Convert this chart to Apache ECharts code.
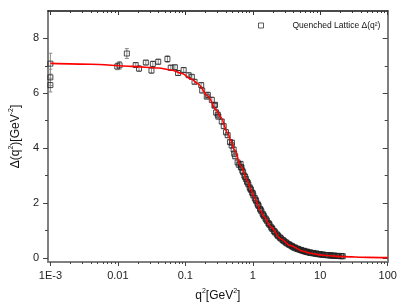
<!DOCTYPE html>
<html>
<head>
<meta charset="utf-8">
<script src="https://cdn.jsdelivr.net/npm/echarts@6/dist/echarts.min.js"></script>
<style>html,body{margin:0;padding:0;background:#fff}#c{width:407px;height:307px}</style>
</head>
<body>
<div id="c"></div>
<script>
// Lattice data: q^2 [GeV^2], Delta(q^2) [GeV^-2], error
const latQ2 = [0.001, 0.001, 0.001, 0.0098, 0.0106, 0.0136, 0.0184, 0.0206, 0.026, 0.0315, 0.033, 0.0397, 0.0543, 0.0608, 0.07, 0.078, 0.0945, 0.112, 0.125, 0.137, 0.172, 0.178, 0.208, 0.216, 0.247, 0.27, 0.276, 0.286, 0.303, 0.309, 0.347, 0.371, 0.401, 0.425, 0.459, 0.486, 0.491, 0.52, 0.531, 0.549, 0.596, 0.62, 0.667,
  0.68, 0.72, 0.75, 0.79, 0.82, 0.86, 0.9, 0.94, 0.98, 1.02, 1.07, 1.12, 1.17, 1.22, 1.28, 1.34, 1.4, 1.47, 1.54, 1.62, 1.7, 1.78, 1.87, 1.96, 2.06, 2.16, 2.27, 2.38, 2.5, 2.63, 2.76, 2.9, 3.05, 3.2, 3.37, 3.54, 3.72, 3.92, 4.12, 4.33, 4.56, 4.8, 5.05, 5.32, 5.6, 5.9, 6.2, 6.55, 6.9, 7.3, 7.7, 8.1, 8.6, 9.1, 9.6, 10.2, 10.8, 11.5, 12.2, 13, 13.8, 14.7, 15.6, 16.6, 17.7, 18.9, 20.2, 21.6,
  0.66, 0.7, 0.77, 0.84, 0.92, 1.0, 1.1, 1.2, 1.31, 1.43, 1.58, 1.74, 1.92, 2.11, 2.33, 2.56, 2.83, 3.12, 3.45, 3.82, 4.22, 4.68, 5.18, 5.75, 6.37, 7.1, 7.9, 8.85, 9.9, 11.1, 12.6, 14.2, 16.1, 18.3, 20.8];
const latVal = [7.08, 6.58, 6.3, 6.98, 7.02, 7.45, 7.03, 6.9, 7.12, 6.83, 7.07, 7.15, 7.25, 6.93, 6.95, 6.74, 6.85, 6.66, 6.6, 6.42, 6.3, 6.1, 5.88, 5.94, 5.76, 5.55, 5.58, 5.3, 5.22, 5.15, 4.97, 4.8, 4.58, 4.47, 4.22, 4.1, 4.2, 3.95, 3.8, 3.7, 3.48, 3.4, 3.3,
  3.3, 3.12, 3.0, 2.88, 2.78, 2.68, 2.57, 2.48, 2.38, 2.28, 2.18, 2.08, 1.98, 1.89, 1.79, 1.7, 1.61, 1.52, 1.44, 1.35, 1.27, 1.2, 1.12, 1.05, 0.98, 0.92, 0.86, 0.8, 0.75, 0.7, 0.65, 0.61, 0.57, 0.53, 0.5, 0.47, 0.44, 0.4, 0.37, 0.35, 0.33, 0.31, 0.29, 0.27, 0.25, 0.235, 0.22, 0.205, 0.19, 0.18, 0.17, 0.16, 0.15, 0.14, 0.13, 0.12, 0.115, 0.108, 0.1, 0.095, 0.09, 0.085, 0.08, 0.075, 0.07, 0.066, 0.062, 0.058,
  3.42, 3.18, 2.95, 2.75, 2.52, 2.35, 2.12, 1.93, 1.75, 1.57, 1.4, 1.24, 1.08, 0.95, 0.83, 0.73, 0.64, 0.56, 0.49, 0.43, 0.38, 0.33, 0.29, 0.26, 0.23, 0.2, 0.18, 0.16, 0.14, 0.12, 0.105, 0.093, 0.083, 0.074, 0.066];
const latErr = [0.38, 0.3, 0.25, 0.12, 0.14, 0.18, 0.08, 0.1, 0.08, 0.1, 0.1, 0.09, 0.12, 0.1, 0.08, 0.09, 0.08, 0.08, 0.08, 0.08, 0.08, 0.08, 0.08, 0.1, 0.1, 0.08, 0.08, 0.1, 0.08, 0.08, 0.08, 0.08, 0.1, 0.08, 0.08, 0.1, 0.08, 0.08, 0.1, 0.08, 0.08, 0.1, 0.08,
  0.08, 0.08, 0.08, 0.08, 0.08, 0.08, 0.07, 0.07, 0.07, 0.07, 0.07, 0.07, 0.06, 0.06, 0.06, 0.06, 0.06, 0.06, 0.05, 0.05, 0.05, 0.05, 0.05, 0.05, 0.04, 0.04, 0.04, 0.04, 0.04, 0.04, 0.03, 0.03, 0.03, 0.03, 0.03, 0.03, 0.03, 0.03, 0.02, 0.02, 0.02, 0.02, 0.02, 0.02, 0.02, 0.02, 0.02, 0.02, 0.02, 0.02, 0.02, 0.02, 0.02, 0.02, 0.02, 0.02, 0.02, 0.02, 0.02, 0.02, 0.02, 0.02, 0.02, 0.02, 0.02, 0.02, 0.02, 0.02,
  0.1, 0.1, 0.09, 0.09, 0.08, 0.08, 0.07, 0.07, 0.06, 0.06, 0.05, 0.05, 0.05, 0.04, 0.04, 0.04, 0.03, 0.03, 0.03, 0.03, 0.02, 0.02, 0.02, 0.02, 0.02, 0.02, 0.02, 0.02, 0.02, 0.02, 0.02, 0.02, 0.02, 0.02, 0.02];

// Fitted curve (red)
const fitQ2 = [0.001, 0.004, 0.0161, 0.04, 0.0622, 0.09, 0.1225, 0.154, 0.216, 0.286, 0.338, 0.425, 0.475, 0.531, 0.667, 0.836, 0.935, 1.045, 1.31, 1.47, 1.84, 2.58, 3.6, 5.6, 7.1, 10, 12.6, 22, 50, 100];
const fitVal = [7.09, 7.06, 6.98, 6.92, 6.85, 6.72, 6.52, 6.35, 5.9, 5.4, 5.12, 4.55, 4.28, 3.95, 3.35, 2.8, 2.5, 2.22, 1.72, 1.5, 1.14, 0.7, 0.45, 0.24, 0.17, 0.11, 0.085, 0.045, 0.02, 0.01];

// Ticks
const xMajorTicks = [0.001, 0.01, 0.1, 1, 10, 100];
const xTickLabels = ['1E-3', '0.01', '0.1', '1', '10', '100'];
const yMajorTicks = [0, 2, 4, 6, 8];
const yMinorTicks = [1, 3, 5, 7];
const legendName = 'Quenched Lattice Δ(q²)';

const xMinor = [];
for (let n = -3; n < 2; n++) for (let k = 2; k <= 9; k++) xMinor.push(k * Math.pow(10, n));

const X_MIN = Math.pow(10, -3.035), X_MAX = 100, Y_MIN = -0.15, Y_MAX = 9;
const FONT = 'Liberation Sans, Arial, sans-serif';
const AX_GRAY = '#808080';

const latData = latQ2.map((q, i) => [q, latVal[i], latErr[i]]);
const fitData = fitQ2.map((q, i) => [q, fitVal[i]]);

function xLabel(v) {
  let best = 0, d = Infinity;
  xMajorTicks.forEach((t, i) => { const dd = Math.abs(Math.log10(t) - Math.log10(v)); if (dd < d) { d = dd; best = i; } });
  return xTickLabels[best];
}

const baseX = { type: 'log', logBase: 10, min: X_MIN, max: X_MAX, splitLine: { show: false }, minorTick: { show: false } };
const baseY = { type: 'value', min: Y_MIN, max: Y_MAX, splitLine: { show: false }, minorTick: { show: false } };

const rich = {
  n: { fontSize: 12, fontFamily: FONT, color: '#111', verticalAlign: 'bottom', lineHeight: 14 },
  s: { fontSize: 7, fontFamily: FONT, color: '#111', verticalAlign: 'top', lineHeight: 14 }
};

const chart = echarts.init(document.getElementById('c'), null, { renderer: 'canvas' });
chart.setOption({
  animation: false,
  backgroundColor: '#fff',
  grid: { left: 45.7, right: 19.3, top: 11, bottom: 44.5, containLabel: false },
  legend: {
    show: true, left: 253, top: 16, data: [legendName],
    icon: 'rect', itemWidth: 5, itemHeight: 5,
    itemStyle: { color: '#fff', borderColor: '#333', borderWidth: 1 },
    textStyle: { fontFamily: FONT, fontSize: 8.5, color: '#111', padding: [0, 0, 0, 24] }
  },
  xAxis: [
    Object.assign({}, baseX, {
      position: 'bottom',
      axisLine: { show: true, onZero: false, lineStyle: { color: AX_GRAY, width: 2 } },
      axisTick: { show: true, customValues: xMajorTicks, length: 4, lineStyle: { color: '#444', width: 1 } },
      axisLabel: { show: true, customValues: xMajorTicks, formatter: xLabel, margin: 8, fontSize: 11, fontFamily: FONT, color: '#222' },
      name: '{n|q}{s|2}{n|[GeV}{s|2}{n|]}', nameLocation: 'middle', nameGap: 26,
      nameTextStyle: { rich: rich }
    }),
    Object.assign({}, baseX, {
      position: 'bottom',
      axisLine: { show: false, onZero: false },
      axisTick: { show: true, customValues: xMinor, length: 2, lineStyle: { color: '#444', width: 1 } },
      axisLabel: { show: false }
    }),
    Object.assign({}, baseX, {
      position: 'top',
      axisLine: { show: true, onZero: false, lineStyle: { color: '#111', width: 1.5 } },
      axisTick: { show: true, inside: true, customValues: xMajorTicks, length: 4, lineStyle: { color: '#333', width: 1 } },
      axisLabel: { show: false }
    }),
    Object.assign({}, baseX, {
      position: 'top',
      axisLine: { show: false, onZero: false },
      axisTick: { show: true, inside: true, customValues: xMinor, length: 2, lineStyle: { color: '#333', width: 1 } },
      axisLabel: { show: false }
    })
  ],
  yAxis: [
    Object.assign({}, baseY, {
      position: 'left',
      axisLine: { show: true, onZero: false, lineStyle: { color: AX_GRAY, width: 2 } },
      axisTick: { show: true, customValues: yMajorTicks, length: 5, lineStyle: { color: '#444', width: 1 } },
      axisLabel: { show: true, customValues: yMajorTicks, margin: 9, fontSize: 11, fontFamily: FONT, color: '#222' },
      name: '{n|Δ(q}{s|2}{n|)[GeV}{s|-2}{n|]}', nameLocation: 'middle', nameGap: 20, nameRotate: 90,
      nameTextStyle: { rich: rich }
    }),
    Object.assign({}, baseY, {
      position: 'left',
      axisLine: { show: false, onZero: false },
      axisTick: { show: true, customValues: yMinorTicks, length: 3, lineStyle: { color: '#444', width: 1 } },
      axisLabel: { show: false }
    }),
    Object.assign({}, baseY, {
      position: 'right',
      axisLine: { show: true, onZero: false, lineStyle: { color: AX_GRAY, width: 2 } },
      axisTick: { show: true, inside: true, customValues: yMajorTicks, length: 5, lineStyle: { color: '#444', width: 1 } },
      axisLabel: { show: false }
    }),
    Object.assign({}, baseY, {
      position: 'right',
      axisLine: { show: false, onZero: false },
      axisTick: { show: true, inside: true, customValues: yMinorTicks, length: 3, lineStyle: { color: '#444', width: 1 } },
      axisLabel: { show: false }
    })
  ],
  series: [
    {
      type: 'custom', name: 'err', xAxisIndex: 0, yAxisIndex: 0, z: 1, clip: true,
      data: latData, encode: { x: 0, y: 1 },
      renderItem: function (params, api) {
        const x = api.value(0), y = api.value(1), e = api.value(2);
        const t = api.coord([x, y + e]), b = api.coord([x, y - e]);
        const st = { stroke: '#8c8c8c', lineWidth: 1 };
        const c = 2;
        return { type: 'group', children: [
          { type: 'line', shape: { x1: t[0], y1: t[1], x2: b[0], y2: b[1] }, style: st },
          { type: 'line', shape: { x1: t[0] - c, y1: t[1], x2: t[0] + c, y2: t[1] }, style: st },
          { type: 'line', shape: { x1: b[0] - c, y1: b[1], x2: b[0] + c, y2: b[1] }, style: st }
        ] };
      }
    },
    {
      type: 'scatter', name: legendName, xAxisIndex: 0, yAxisIndex: 0, z: 2,
      data: latData.map(d => [d[0], d[1]]),
      symbol: 'rect', symbolSize: 5,
      itemStyle: { color: 'rgba(255,255,255,0)', borderColor: '#222', borderWidth: 1 }
    },
    {
      type: 'line', name: 'fit', xAxisIndex: 0, yAxisIndex: 0, z: 3,
      data: fitData, showSymbol: false, symbol: 'none',
      smooth: 0.3, smoothMonotone: 'x',
      lineStyle: { color: '#ff0000', width: 1.6 }
    }
  ]
});
</script>
</body>
</html>
